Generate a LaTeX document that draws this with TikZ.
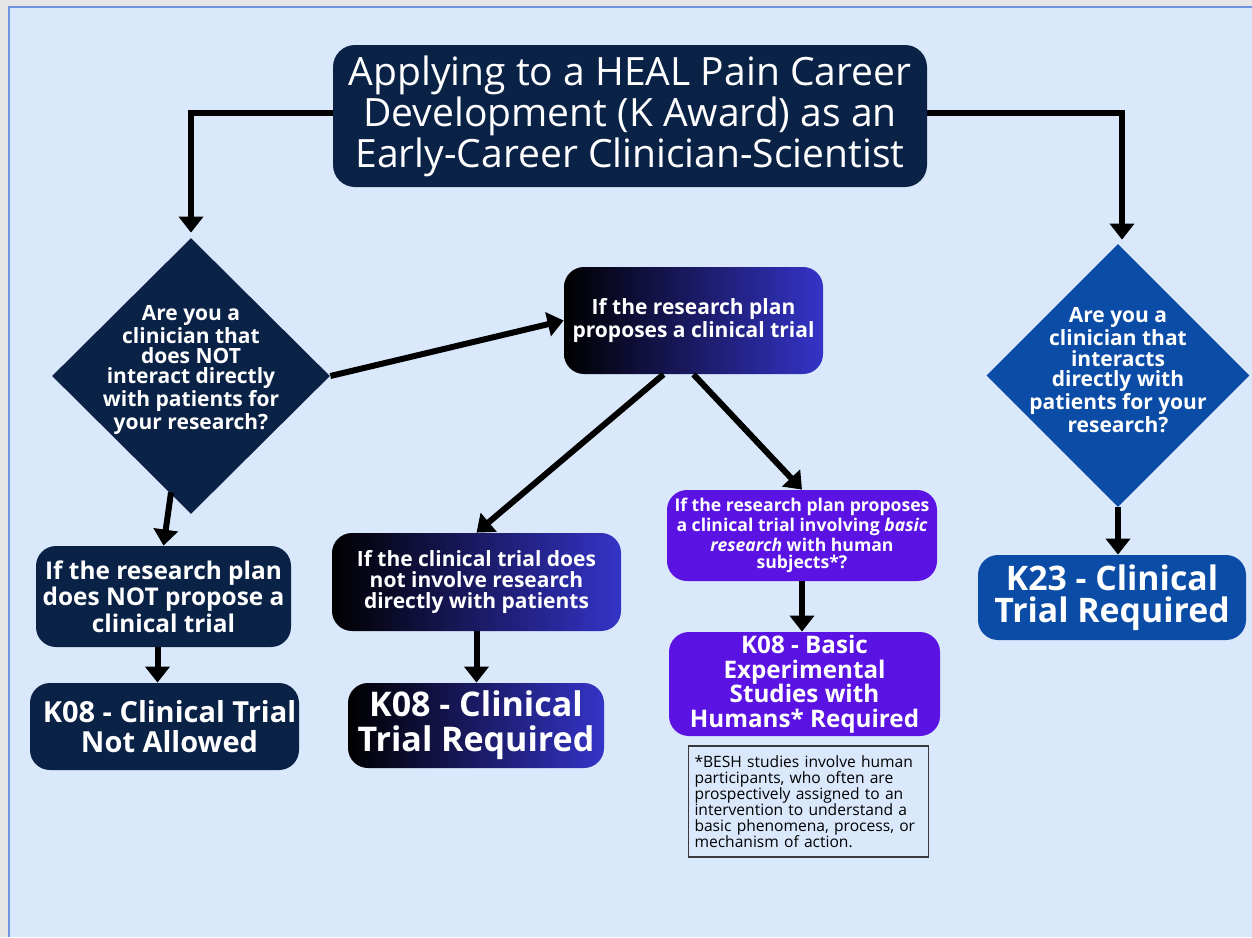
\documentclass[tikz,border=0pt]{standalone}
\usepackage{fontspec}
\setmainfont{Open Sans}
\usetikzlibrary{arrows.meta,shapes.geometric}

\definecolor{navy}{HTML}{0B2247}
\definecolor{royal}{HTML}{0B4CA6}
\definecolor{violet}{HTML}{5B13E4}
\definecolor{gradend}{HTML}{3434C8}
\definecolor{paper}{HTML}{DAE8FC}
\definecolor{frame}{HTML}{6D94DC}
\definecolor{pagegray}{HTML}{E6E6E6}
\definecolor{notegray}{HTML}{3A3A3A}

\newcommand{\setfs}[2]{\fontsize{#1}{#2}\selectfont}

\tikzset{
    box/.style={rounded corners=10pt, text=white, align=center, inner sep=0pt},
    navybox/.style={box, fill=navy},
    gradbox/.style={box, left color=black, right color=gradend},
    violetbox/.style={box, fill=violet},
    royalbox/.style={box, fill=royal},
    decision/.style={diamond, inner sep=0pt},
    dtext/.style={text=white, align=center, font=\bfseries\setfs{10.5}{10.2}, yshift=3pt},
    arr/.style={line width=3pt, -{Triangle[width=12pt,length=8pt]}},
}

\begin{document}
\begin{tikzpicture}[x=0.5pt,y=-0.5pt]
    \useasboundingbox (0,0) rectangle (1252,937);
    \fill[pagegray] (0,0) rectangle (1252,937);
    \fill[paper] (8,6) rectangle (1252,937);
    \draw[frame, line width=1pt] (8.5,937) -- (8.5,6.5) -- (1252,6.5);

    % top
    \node[navybox, rounded corners=11pt, minimum width=297pt, minimum height=71pt,
        font=\setfs{19.5}{19.25}] (title) at (630,116)
        {Applying to a HEAL Pain Career\\Development (K Award) as an\\Early-Career Clinician-Scientist};

    % the two questions
    \node[decision, fill=navy, minimum width=139pt, minimum height=138pt,
        label={[dtext]center:{Are you a\\clinician that\\does NOT\\interact directly\\with patients for\\your research?}}]
        (qleft) at (191,376) {};
    \node[decision, fill=royal, minimum width=131.5pt, minimum height=131.5pt,
        label={[dtext, yshift=-0.5pt]center:{Are you a\\clinician that\\interacts\\directly with\\patients for your\\research?}}]
        (qright) at (1118,375.5) {};

    % left branch
    \node[navybox, minimum width=127.5pt, minimum height=50.5pt,
        font=\bfseries\setfs{12.2}{12}] (notplan) at (163.5,596.5)
        {If the research plan\\does NOT propose a\\clinical trial};
    \node[navybox, minimum width=134.5pt, minimum height=43.5pt,
        font=\bfseries\setfs{14.5}{15}] (k08na) at (164.5,726.5)
        {\hspace*{5pt}K08 - Clinical Trial\\\hspace*{5pt}Not Allowed};

    % middle branch
    \node[gradbox, minimum width=129.5pt, minimum height=53.5pt,
        font=\bfseries\setfs{10.5}{10}] (plan) at (693.5,320.5)
        {If the research plan\\proposes a clinical trial};
    \node[gradbox, minimum width=144.5pt, minimum height=49pt,
        font=\bfseries\setfs{10.5}{10.5}] (notpat) at (476.5,582)
        {If the clinical trial does\\not involve research\\directly with patients};
    \node[gradbox, minimum width=128pt, minimum height=42.5pt,
        font=\bfseries\setfs{17}{17.5}] (k08req) at (476,725.5)
        {K08 - Clinical\\Trial Required};
    \node[violetbox, minimum width=135pt, minimum height=45.5pt,
        font=\bfseries\setfs{8.8}{8.6}] (basicq) at (802,535.5)
        {If the research plan proposes\\a clinical trial involving \textit{basic}\\\textit{research} with human\\subjects*?};
    \node[violetbox, minimum width=135.5pt, minimum height=52pt,
        font=\bfseries\setfs{12.1}{12.25}] (k08besh) at (804.5,684)
        {K08 - Basic\\Experimental\\Studies with\\Humans* Required};
    \node[draw=notegray, fill=paper, line width=0.7pt, minimum width=120pt, minimum height=55.5pt,
        text width=114pt, align=left, inner sep=0pt, font=\setfs{7.8}{8}] (note) at (808.5,801.5)
        {*BESH studies involve human\\participants, who often are\\prospectively assigned to an\\intervention to understand a\\basic phenomena, process, or\\mechanism of action.};

    % right branch
    \node[royalbox, minimum width=134pt, minimum height=42.5pt,
        font=\bfseries\setfs{16.9}{16}] (k23) at (1112,597.5)
        {K23 - Clinical\\Trial Required};

    % connectors
    \draw[arr, shorten >=2.5pt] ([yshift=1.5pt]title.west) -| (qleft.north);
    \draw[arr, shorten >=2pt] ([yshift=1.5pt]title.east) -| ([xshift=2pt]qright.north);
    \draw[arr] (qleft.east) -- (plan.west);
    \draw[arr] ([xshift=-15pt]plan.south) -- (notpat.north);
    \draw[arr] (plan.south) -- (basicq.north);
    \draw[arr] ([xshift=-10pt,yshift=11pt]qleft.south) -- (notplan.north);
    \draw[arr] ([xshift=-3pt]notplan.south) -- ([xshift=-3pt]notplan.south |- k08na.north);
    \draw[arr] (notpat.south) -- (notpat.south |- k08req.north);
    \draw[arr] (basicq.south) -- (basicq.south |- k08besh.north);
    \draw[arr] (qright.south) -- (qright.south |- k23.north);
\end{tikzpicture}
\end{document}
